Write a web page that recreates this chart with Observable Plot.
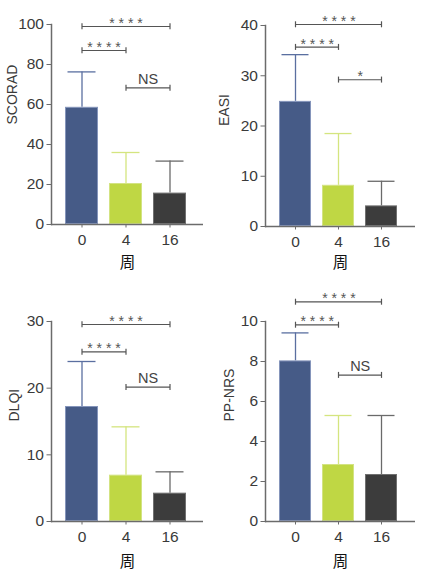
<!DOCTYPE html>
<html><head><meta charset="utf-8">
<script src="https://cdn.jsdelivr.net/npm/d3@7"></script>
<script src="https://cdn.jsdelivr.net/npm/@observablehq/plot@0.6"></script>
<style>
body{margin:0;background:#fff;}
#grid{display:grid;grid-template-columns:212px 213px;grid-template-rows:290px 293px;width:425px;height:583px;}
#grid svg{display:block;overflow:visible;}
</style></head><body><div id="grid"></div>
<script>
// categories (weeks)
const weeks = ["0", "4", "16"];
const xTitle = "周";
const barColors = ["#465b87", "#bfd744", "#3c3c3c"];
const barEdges = ["#8595bb", "#d3e383", "#707070"];
const whiskerColors = ["#5a6fa0", "#d4e57f", "#6a6a6a"];

// SCORAD
const scoradMean = [58.6, 20.5, 15.7];
const scoradUpper = [76.3, 36.0, 31.7];
const scoradTicks = [0, 20, 40, 60, 80, 100];
const scoradBrackets = [
  {from: "0", to: "16", y: 99, label: "****"},
  {from: "0", to: "4", y: 87, label: "****"},
  {from: "4", to: "16", y: 68.3, label: "NS"}
];
// EASI
const easiMean = [24.9, 8.2, 4.1];
const easiUpper = [34.2, 18.5, 9.0];
const easiTicks = [0, 10, 20, 30, 40];
const easiBrackets = [
  {from: "0", to: "16", y: 40.2, label: "****"},
  {from: "0", to: "4", y: 35.7, label: "****"},
  {from: "4", to: "16", y: 29.2, label: "*"}
];
// DLQI
const dlqiMean = [17.25, 6.95, 4.25];
const dlqiUpper = [24.0, 14.2, 7.45];
const dlqiTicks = [0, 10, 20, 30];
const dlqiBrackets = [
  {from: "0", to: "16", y: 29.55, label: "****"},
  {from: "0", to: "4", y: 25.45, label: "****"},
  {from: "4", to: "16", y: 20.15, label: "NS"}
];
// PP-NRS
const ppnrsMean = [8.03, 2.85, 2.35];
const ppnrsUpper = [9.43, 5.3, 5.3];
const ppnrsTicks = [0, 2, 4, 6, 8, 10];
const ppnrsBrackets = [
  {from: "0", to: "16", y: 10.98, label: "****"},
  {from: "0", to: "4", y: 9.83, label: "****"},
  {from: "4", to: "16", y: 7.32, label: "NS"}
];

const tickFont = "'Liberation Sans', sans-serif";
const labelFont = "'Liberation Sans', 'DejaVu Sans', sans-serif";
const axisGray = "#6b6b6b";
const PI = 0.25, PO = 0.352;

function panel(cfg) {
  const data = weeks.map((w, i) => ({
    week: w, mean: cfg.mean[i], upper: cfg.upper[i],
    fill: barColors[i], edge: barEdges[i], whisk: whiskerColors[i]
  }));
  const innerW = cfg.width - cfg.ml - cfg.mr;
  const step = innerW / (weeks.length - PI + 2 * PO);
  const br = cfg.brackets;
  const labelMarks = br.map(b => {
    const isNS = b.label === "NS";
    return Plot.text([b], {
      x: "from", y: "y",
      text: d => isNS ? d.label : d.label.split("").join(" "),
      dx: (weeks.indexOf(b.to) - weeks.indexOf(b.from)) * step / 2,
      lineAnchor: "bottom", dy: isNS ? -4 : 1.5,
      fontSize: isNS ? 14.5 : 14, fontFamily: labelFont, fill: isNS ? "#444" : "#555"
    });
  });
  return Plot.plot({
    width: cfg.width, height: cfg.height,
    marginLeft: cfg.ml, marginRight: cfg.mr, marginTop: cfg.mt, marginBottom: cfg.mb,
    style: {background: "white", color: "#3a3a3a", overflow: "visible"},
    x: {type: "band", domain: weeks, paddingInner: PI, paddingOuter: PO, align: 0.44, axis: null},
    y: {domain: [0, cfg.max], axis: null},
    color: {type: "identity"},
    marks: [
      Plot.ruleX(data, {x: "week", y1: "mean", y2: "upper", stroke: "whisk", strokeWidth: 1.3}),
      Plot.tickY(data, {x: "week", y: "upper", stroke: "whisk", strokeWidth: 1.3, insetLeft: 2.5, insetRight: 2.5}),
      Plot.barY(data, {x: "week", y: "mean", fill: "fill", stroke: "edge", strokeWidth: 1, inset: 0.5}),
      Plot.frame({anchor: "left", stroke: axisGray, strokeWidth: 1.5}),
      Plot.ruleY([0], {stroke: axisGray, strokeWidth: 1.5}),
      Plot.axisY({ticks: cfg.ticks, tickSize: 4.5, tickPadding: 3, stroke: axisGray, fill: "#3a3a3a",
        fontSize: 15.5, fontFamily: tickFont, label: null}),
      Plot.axisX({tickSize: 3.5, tickPadding: 6, stroke: axisGray, fill: "#3a3a3a",
        fontSize: 15.5, fontFamily: tickFont, label: null}),
      Plot.link(br, {x1: "from", x2: "to", y1: "y", y2: "y", stroke: "#555", strokeWidth: 1.2}),
      Plot.ruleX(br, {x: "from", y1: "y", y2: "y", insetTop: -2.7, insetBottom: -3.3, stroke: "#555", strokeWidth: 1.2}),
      Plot.ruleX(br, {x: "to", y1: "y", y2: "y", insetTop: -2.7, insetBottom: -3.3, stroke: "#555", strokeWidth: 1.2}),
      ...labelMarks,
      Plot.text([cfg.label], {frameAnchor: "left", rotate: -90, dx: cfg.labelDx, text: d => d,
        fontSize: 14, fontFamily: labelFont, fill: "#3a3a3a"}),
      Plot.text([xTitle], {frameAnchor: "bottom", dy: cfg.titleDy, text: d => d,
        fontSize: 15.5, fontFamily: "'Noto Sans CJK SC', sans-serif", fill: "#111"})
    ]
  });
}

const cfgs = [
  {label: "SCORAD", mean: scoradMean, upper: scoradUpper, ticks: scoradTicks, max: 100, brackets: scoradBrackets,
   width: 212, height: 290, ml: 51, mr: 9, mt: 24, mb: 66, labelDx: -39, titleDy: 43},
  {label: "EASI", mean: easiMean, upper: easiUpper, ticks: easiTicks, max: 40, brackets: easiBrackets,
   width: 213, height: 290, ml: 53, mr: 10, mt: 25, mb: 64, labelDx: -41, titleDy: 41},
  {label: "DLQI", mean: dlqiMean, upper: dlqiUpper, ticks: dlqiTicks, max: 30, brackets: dlqiBrackets,
   width: 212, height: 293, ml: 51, mr: 9, mt: 31, mb: 62, labelDx: -37, titleDy: 45},
  {label: "PP-NRS", mean: ppnrsMean, upper: ppnrsUpper, ticks: ppnrsTicks, max: 10, brackets: ppnrsBrackets,
   width: 213, height: 293, ml: 53, mr: 10, mt: 31, mb: 62, labelDx: -36, titleDy: 45}
];
const grid = document.getElementById("grid");
for (const c of cfgs) grid.appendChild(panel(c));
</script></body></html>
